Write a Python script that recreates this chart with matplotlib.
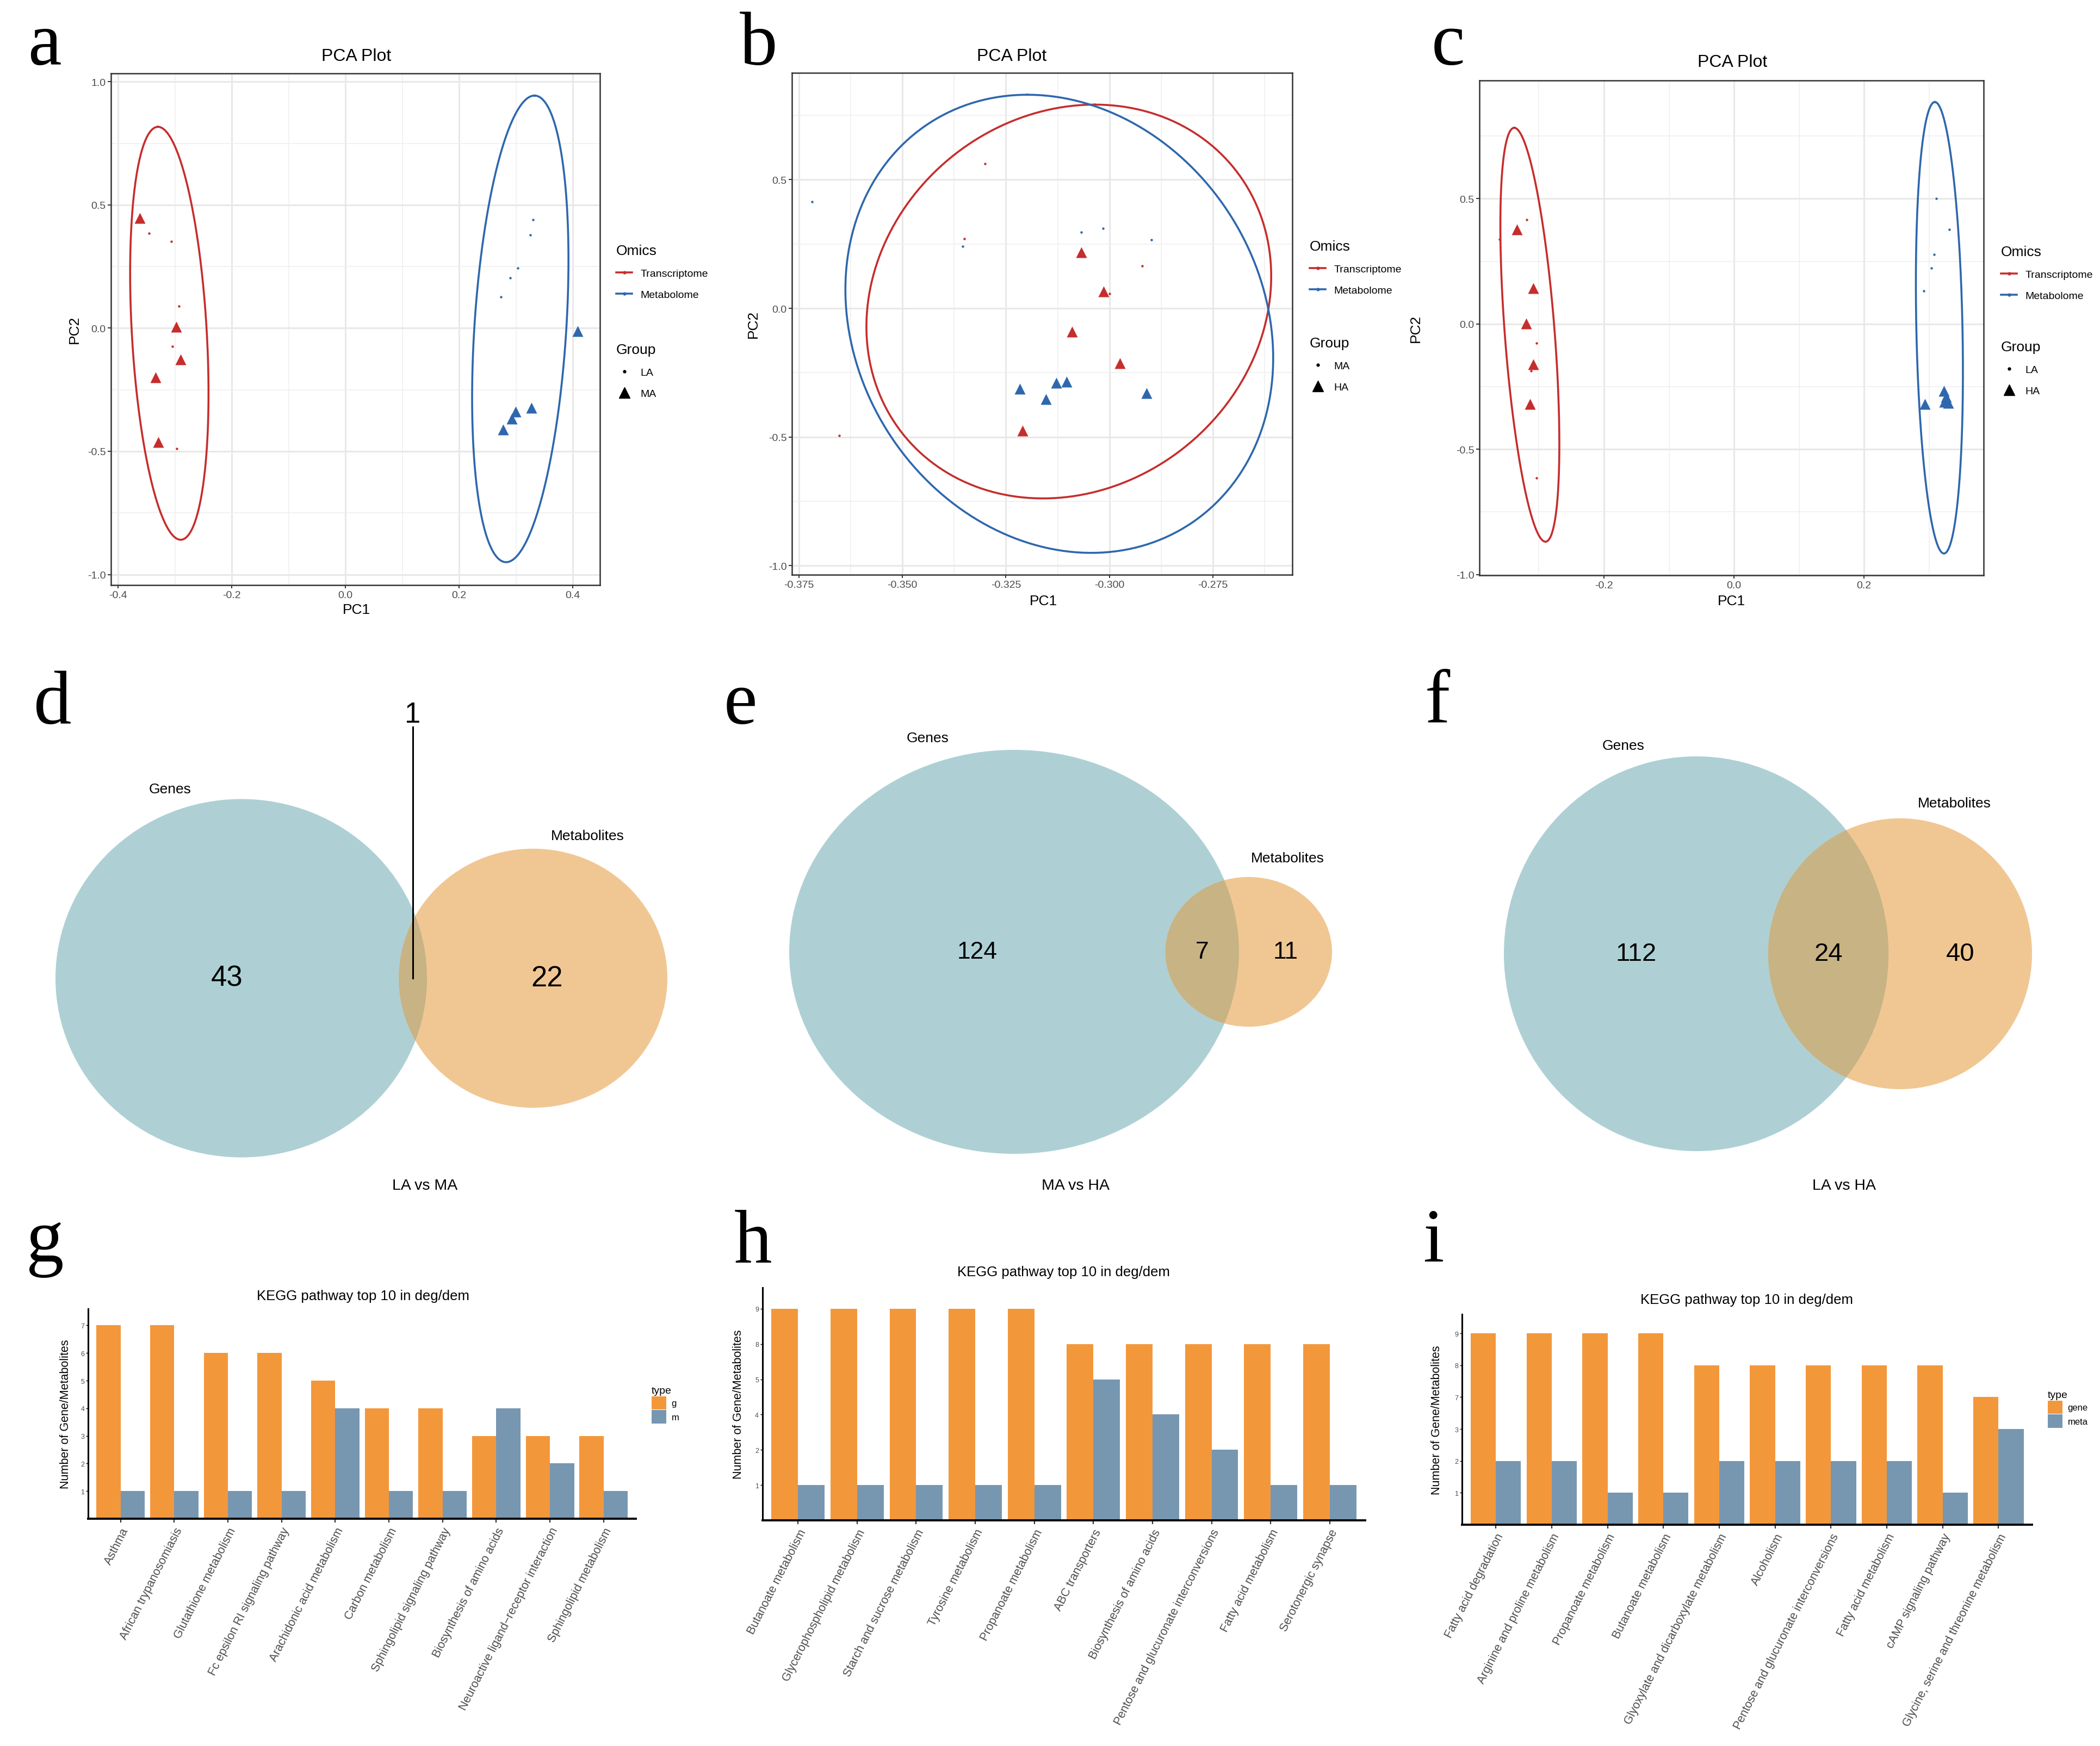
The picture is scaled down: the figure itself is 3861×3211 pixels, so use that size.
import numpy as np
import matplotlib
matplotlib.use("Agg")
import matplotlib.pyplot as plt
import matplotlib.ticker as mticker
from matplotlib.lines import Line2D
from matplotlib.patches import Patch, Circle
from matplotlib import font_manager

# ---------------- data ----------------
# PCA a (LA vs MA)
a_pc1 = [-0.346, -0.306, -0.293, -0.305, -0.297, -0.362, -0.298, -0.290, -0.334, -0.329,
         0.330, 0.325, 0.303, 0.290, 0.273, 0.408, 0.277, 0.293, 0.299, 0.327]
a_pc2 = [0.385, 0.351, 0.089, -0.075, -0.490, 0.447, 0.006, -0.126, -0.200, -0.463,
         0.440, 0.378, 0.243, 0.205, 0.126, -0.013, -0.412, -0.367, -0.340, -0.323]
a_omics = ["T"] * 10 + ["M"] * 10
a_group = ["LA"] * 5 + ["MA"] * 5 + ["LA"] * 5 + ["MA"] * 5
# ellipse: centre x, centre y, axis dx, axis dy, half width
a_ell_trans = [-0.310, -0.021, -0.020, 0.838, 0.066]
a_ell_meta = [0.3075, -0.003, 0.025, 0.947, 0.081]

# PCA b (MA vs HA)
b_pc1 = [-0.3300, -0.3351, -0.2999, -0.2921, -0.3653, -0.3068, -0.3014, -0.3090, -0.2975, -0.3210,
         -0.3719, -0.3355, -0.3068, -0.3015, -0.2898, -0.3217, -0.3153, -0.3128, -0.3104, -0.2910]
b_pc2 = [0.563, 0.271, 0.058, 0.166, -0.495, 0.218, 0.065, -0.091, -0.213, -0.475,
         0.414, 0.241, 0.295, 0.311, 0.266, -0.312, -0.353, -0.289, -0.285, -0.330]
b_omics = ["T"] * 10 + ["M"] * 10
b_group = ["MA"] * 5 + ["HA"] * 5 + ["MA"] * 5 + ["HA"] * 5
b_ell_trans = [-0.3098, 0.0266, 0.00626, 0.765, 0.0485]
b_ell_meta = [-0.3121, -0.060, -0.00773, 0.890, 0.0511]

# PCA c (LA vs HA)
c_pc1 = [-0.361, -0.319, -0.304, -0.312, -0.304, -0.334, -0.309, -0.320, -0.309, -0.314,
         0.311, 0.331, 0.308, 0.304, 0.292, 0.294, 0.323, 0.326, 0.330, 0.324]
c_pc2 = [0.338, 0.416, -0.077, -0.186, -0.614, 0.378, 0.142, 0.002, -0.161, -0.319,
         0.502, 0.378, 0.277, 0.223, 0.131, -0.319, -0.267, -0.291, -0.314, -0.311]
c_omics = ["T"] * 10 + ["M"] * 10
c_group = ["LA"] * 5 + ["HA"] * 5 + ["LA"] * 5 + ["HA"] * 5
c_ell_trans = [-0.314, -0.043, -0.024, 0.826, 0.0385]
c_ell_meta = [0.316, -0.015, -0.007, 0.901, 0.0355]

# Venn counts
venn_titles = ["LA vs MA", "MA vs HA", "LA vs HA"]
venn_gene_only = [43, 124, 112]
venn_shared = [1, 7, 24]
venn_meta_only = [22, 11, 40]

# KEGG bars
g_path = ["Asthma", "African trypanosomiasis", "Glutathione metabolism",
          "Fc epsilon RI signaling pathway", "Arachidonic acid metabolism", "Carbon metabolism",
          "Sphingolipid signaling pathway", "Biosynthesis of amino acids",
          "Neuroactive ligand\u2212receptor interaction", "Sphingolipid metabolism"]
g_gene = [7, 7, 6, 6, 5, 4, 4, 3, 3, 3]
g_meta = [1, 1, 1, 1, 4, 1, 1, 4, 2, 1]

h_path = ["Butanoate metabolism", "Glycerophospholipid metabolism", "Starch and sucrose metabolism",
          "Tyrosine metabolism", "Propanoate metabolism", "ABC transporters",
          "Biosynthesis of amino acids", "Pentose and glucuronate interconversions",
          "Fatty acid metabolism", "Serotonergic synapse"]
h_gene = [9, 9, 9, 9, 9, 8, 8, 8, 8, 8]
h_meta = [1, 1, 1, 1, 1, 5, 4, 2, 1, 1]

i_path = ["Fatty acid degradation", "Arginine and proline metabolism", "Propanoate metabolism",
          "Butanoate metabolism", "Glyoxylate and dicarboxylate metabolism", "Alcoholism",
          "Pentose and glucuronate interconversions", "Fatty acid metabolism",
          "cAMP signaling pathway", "Glycine, serine and threonine metabolism"]
i_gene = [9, 9, 9, 9, 8, 8, 8, 8, 8, 7]
i_meta = [2, 2, 1, 1, 2, 2, 2, 2, 1, 3]

# ---------------- style ----------------
RED = "#C62D2D"
BLUE = "#2E67AD"
GENE_C = "#AED0D4"
META_C = "#F0C793"
BOTH_C = "#C8B385"
ORANGE = "#F3973B"
STEEL = "#7797B1"

names = {f.name for f in font_manager.fontManager.ttflist}
NARROW = "Liberation Sans Narrow" if "Liberation Sans Narrow" in names else "Liberation Sans"
plt.rcParams["font.family"] = ["Liberation Sans", "DejaVu Sans"]

W, H = 3862, 3212
fig = plt.figure(figsize=(W / 100, H / 100), dpi=100)
fig.patch.set_facecolor("white")


def box(l, t, r, b):
    return [l / W, 1 - b / H, (r - l) / W, (b - t) / H]


def ftext(x, y, s, **kw):
    fig.text(x / W, 1 - y / H, s, **kw)


def pca_panel(rect, xlim, ylim, xmaj, xmin, ymaj, ymin, xfmt, pc1, pc2, omics, group,
              ell_t, ell_m, grp_levels, leg_xy):
    ax = fig.add_axes(box(*rect))
    ax.set_xlim(xlim)
    ax.set_ylim(ylim)
    ax.set_xticks(xmaj)
    ax.set_xticks(xmin, minor=True)
    ax.set_yticks(ymaj)
    ax.set_yticks(ymin, minor=True)
    ax.xaxis.set_major_formatter(mticker.FormatStrFormatter(xfmt))
    ax.yaxis.set_major_formatter(mticker.FormatStrFormatter("%.1f"))
    ax.grid(which="major", color="#E8E8E8", lw=2.2)
    ax.grid(which="minor", color="#EFEFEF", lw=1.1)
    ax.set_axisbelow(True)
    ax.tick_params(which="minor", length=0)
    ax.tick_params(which="major", length=4, width=1.4, color="#333333",
                   labelsize=14, labelcolor="#4D4D4D", pad=3)
    for lab in ax.get_xticklabels() + ax.get_yticklabels():
        lab.set_fontfamily(NARROW)
    for sp in ax.spines.values():
        sp.set_color("#333333")
        sp.set_linewidth(1.8)

    t = np.linspace(0, 2 * np.pi, 400)
    for e, col in ((ell_t, RED), (ell_m, BLUE)):
        cx, cy, dx, dy, bw = e
        ax.plot(cx + dx * np.cos(t) + bw * np.sin(t), cy + dy * np.cos(t), color=col, lw=2.6)

    for x, y, o, g in zip(pc1, pc2, omics, group):
        col = RED if o == "T" else BLUE
        if g == grp_levels[0]:
            ax.plot(x, y, "o", color=col, ms=3.2, mec="none")
        else:
            ax.plot(x, y, "^", color=col, ms=14, mec="none")

    lx, ly1, ly2 = leg_xy
    h1 = [Line2D([], [], color=RED, lw=2.6, marker="o", ms=3.5),
          Line2D([], [], color=BLUE, lw=2.6, marker="o", ms=3.5)]
    h2 = [Line2D([], [], ls="none", marker="o", color="black", ms=3.5),
          Line2D([], [], ls="none", marker="^", color="black", ms=14)]
    common = dict(loc="upper left", bbox_transform=fig.transFigure, frameon=False,
                  prop={"family": NARROW, "size": 14},
                  title_fontproperties={"family": NARROW, "size": 19},
                  handlelength=1.5, handletextpad=0.8, labelspacing=1.1,
                  borderpad=0, borderaxespad=0, alignment="left")
    leg1 = ax.legend(handles=h1, labels=["Transcriptome", "Metabolome"], title="Omics",
                     bbox_to_anchor=(lx / W, 1 - ly1 / H), **common)
    ax.add_artist(leg1)
    ax.legend(handles=h2, labels=grp_levels, title="Group",
              bbox_to_anchor=(lx / W, 1 - ly2 / H), **common)
    return ax


def lens_area(r1, r2, d):
    if d >= r1 + r2:
        return 0.0
    if d <= abs(r1 - r2):
        return np.pi * min(r1, r2) ** 2
    p1 = r1 ** 2 * np.arccos((d * d + r1 * r1 - r2 * r2) / (2 * d * r1))
    p2 = r2 ** 2 * np.arccos((d * d + r2 * r2 - r1 * r1) / (2 * d * r2))
    p3 = 0.5 * np.sqrt((-d + r1 + r2) * (d + r1 - r2) * (d - r1 + r2) * (d + r1 + r2))
    return p1 + p2 - p3


def venn_panel(rect, left_px, width_px, height_px, cy_px, n_g, n_s, n_m, numsize, one=None):
    r1 = np.sqrt((n_g + n_s) / np.pi)
    r2 = np.sqrt((n_m + n_s) / np.pi)
    lo, hi = abs(r1 - r2) + 1e-9, r1 + r2
    for _ in range(80):
        mid = 0.5 * (lo + hi)
        if lens_area(r1, r2, mid) > n_s:
            lo = mid
        else:
            hi = mid
    d = 0.5 * (lo + hi)
    sx = width_px / (r1 + d + r2)
    sy = height_px / (2 * r1)
    cx_px = left_px + r1 * sx
    l, t, r, b = rect
    ax = fig.add_axes(box(*rect))
    ax.set_xlim((l - cx_px) / sx, (r - cx_px) / sx)
    ax.set_ylim((cy_px - b) / sy, (cy_px - t) / sy)
    ax.axis("off")
    c1 = Circle((0, 0), r1, fc=GENE_C, ec="none")
    c2 = Circle((d, 0), r2, fc=META_C, ec="none")
    c3 = Circle((d, 0), r2, fc=BOTH_C, ec="none")
    ax.add_patch(c1)
    ax.add_patch(c2)
    ax.add_patch(c3)
    c3.set_clip_path(c1)
    xg = (-r1 + d - r2) / 2
    xm = (r1 + d + r2) / 2
    xs = (d - r2 + r1) / 2
    ax.text(xg, 0, str(n_g), ha="center", va="center", fontsize=numsize)
    ax.text(xm, 0, str(n_m), ha="center", va="center", fontsize=numsize)
    if one is None:
        ax.text(xs, 0, str(n_s), ha="center", va="center", fontsize=numsize)
    else:
        line_top, lab_y = one
        ax.plot([xs, xs], [0, (cy_px - line_top) / sy], color="black", lw=2.2)
        ax.text(xs, (cy_px - lab_y) / sy, str(n_s), ha="center", va="center", fontsize=numsize)
    return ax


def bar_panel(rect, paths, gene, meta, ylab_x, title_xy, legend=None):
    ax = fig.add_axes(box(*rect))
    levels = sorted(set(gene) | set(meta))
    gpos = [levels.index(v) + 1 for v in gene]
    mpos = [levels.index(v) + 1 for v in meta]
    x = np.arange(1, len(paths) + 1)
    ax.bar(x - 0.225, gpos, 0.45, color=ORANGE, lw=0)
    ax.bar(x + 0.225, mpos, 0.45, color=STEEL, lw=0)
    ax.set_xlim(0.4, len(paths) + 0.6)
    ax.set_ylim(0, len(levels) + 0.6)
    ax.set_yticks(range(1, len(levels) + 1))
    ax.set_yticklabels([str(v) for v in levels])
    ax.set_xticks(x)
    ax.set_xticklabels(paths, rotation=63, ha="right", va="top", rotation_mode="anchor",
                       fontsize=15.5, color="#4D4D4D")
    for s in ("top", "right"):
        ax.spines[s].set_visible(False)
    ax.spines["left"].set_linewidth(2.2)
    ax.spines["bottom"].set_linewidth(2.8)
    ax.tick_params(axis="y", labelsize=9, labelcolor="#4D4D4D", length=3, width=1, pad=2)
    ax.tick_params(axis="x", length=5, width=1.6, color="#333333", pad=4)
    ax.set_ylabel("Number of Gene/Metabolites", fontsize=15.5)
    ax.yaxis.set_label_coords(ylab_x, 0.5)
    ftext(title_xy[0], title_xy[1], "KEGG pathway top 10 in deg/dem", ha="center", va="center",
          fontsize=18.5, family=NARROW)
    if legend is not None:
        lx, ly, labs = legend
        ax.legend(handles=[Patch(fc=ORANGE), Patch(fc=STEEL)], labels=labs, title="type",
                  loc="upper left", bbox_to_anchor=(lx / W, 1 - ly / H),
                  bbox_transform=fig.transFigure, frameon=False,
                  prop={"family": NARROW, "size": 12},
                  title_fontproperties={"family": NARROW, "size": 14},
                  handlelength=1.6, handleheight=1.85, handletextpad=0.6,
                  labelspacing=0.1, borderpad=0, borderaxespad=0, alignment="left")
    return ax


# ---------------- row 1: PCA ----------------
pca_panel((204, 135.5, 1103, 1077), (-0.4127, 0.4476), (-1.043, 1.035),
          [-0.4, -0.2, 0.0, 0.2, 0.4], [-0.3, -0.1, 0.1, 0.3],
          [-1.0, -0.5, 0.0, 0.5, 1.0], [-0.75, -0.25, 0.25, 0.75], "%.1f",
          a_pc1, a_pc2, a_omics, a_group, a_ell_trans, a_ell_meta, ["LA", "MA"],
          (1133, 450, 632))
pca_panel((1456, 135, 2376, 1058), (-0.3767, -0.2558), (-1.035, 0.915),
          [-0.375, -0.35, -0.325, -0.3, -0.275], [-0.3625, -0.3375, -0.3125, -0.2875, -0.2625],
          [-1.0, -0.5, 0.0, 0.5], [-0.75, -0.25, 0.25, 0.75], "%.3f",
          b_pc1, b_pc2, b_omics, b_group, b_ell_trans, b_ell_meta, ["MA", "HA"],
          (2408, 442, 620))
pca_panel((2720, 149, 3647, 1059), (-0.3916, 0.384), (-1.003, 0.972),
          [-0.2, 0.0, 0.2], [-0.3, -0.1, 0.1, 0.3],
          [-1.0, -0.5, 0.0, 0.5], [-0.75, -0.25, 0.25, 0.75], "%.1f",
          c_pc1, c_pc2, c_omics, c_group, c_ell_trans, c_ell_meta, ["LA", "HA"],
          (3679, 452, 627))

for (tx, ty), (x1, y1), (x2, y2) in [((655, 104), (655, 1122), (137, 606)),
                                     ((1860, 104), (1918, 1106), (1385, 596)),
                                     ((3185, 115), (3183, 1106), (2603, 604))]:
    ftext(tx, ty, "PCA Plot", ha="center", va="center", fontsize=23, family=NARROW)
    ftext(x1, y1, "PC1", ha="center", va="center", fontsize=19, family=NARROW)
    ftext(x2, y2, "PC2", ha="center", va="center", fontsize=19, family=NARROW, rotation=90)

# ---------------- row 2: Venn ----------------
venn_panel((0, 1150, 1290, 2250), 102, 1125, 659, 1800,
           venn_gene_only[0], venn_shared[0], venn_meta_only[0], 38, one=(1338, 1315))
venn_panel((1300, 1150, 2590, 2250), 1451, 998, 743, 1751.5,
           venn_gene_only[1], venn_shared[1], venn_meta_only[1], 32)
venn_panel((2600, 1150, 3862, 2250), 2765, 971, 726, 1755,
           venn_gene_only[2], venn_shared[2], venn_meta_only[2], 34)

for (gx, gy), (mx, my), (tx, ty), title in zip([(313, 1452), (1706, 1358), (2985, 1372)],
                                               [(1080, 1538), (2367, 1579), (3593, 1478)],
                                               [(781, 2181), (1978, 2181), (3391, 2181)],
                                               venn_titles):
    ftext(gx, gy, "Genes", ha="center", va="center", fontsize=19, family=NARROW)
    ftext(mx, my, "Metabolites", ha="center", va="center", fontsize=19, family=NARROW)
    ftext(tx, ty, title, ha="center", va="center", fontsize=20.5, family=NARROW)

# ---------------- row 3: KEGG bars ----------------
bar_panel((162.5, 2408, 1169, 2794), g_path, g_gene, g_meta, -0.031, (667, 2384),
          legend=(1198, 2550, ["g", "m"]))
bar_panel((1402, 2369, 2510, 2797), h_path, h_gene, h_meta, -0.031, (1955, 2340))
bar_panel((2688.5, 2418, 3736, 2805), i_path, i_gene, i_meta, -0.035, (3212, 2391),
          legend=(3765, 2558, ["gene", "meta"]))

# ---------------- panel letters ----------------
for s, x, y in [("a", 51, 119), ("b", 1360, 119), ("c", 2632, 119),
                ("d", 62, 1331), ("e", 1331, 1331), ("f", 2620, 1329),
                ("g", 48, 2320), ("h", 1350, 2322), ("i", 2616, 2320)]:
    ftext(x, y, s, ha="left", va="baseline", fontsize=100, family="Liberation Serif")

fig.savefig("out.png", dpi=100, facecolor="white")
